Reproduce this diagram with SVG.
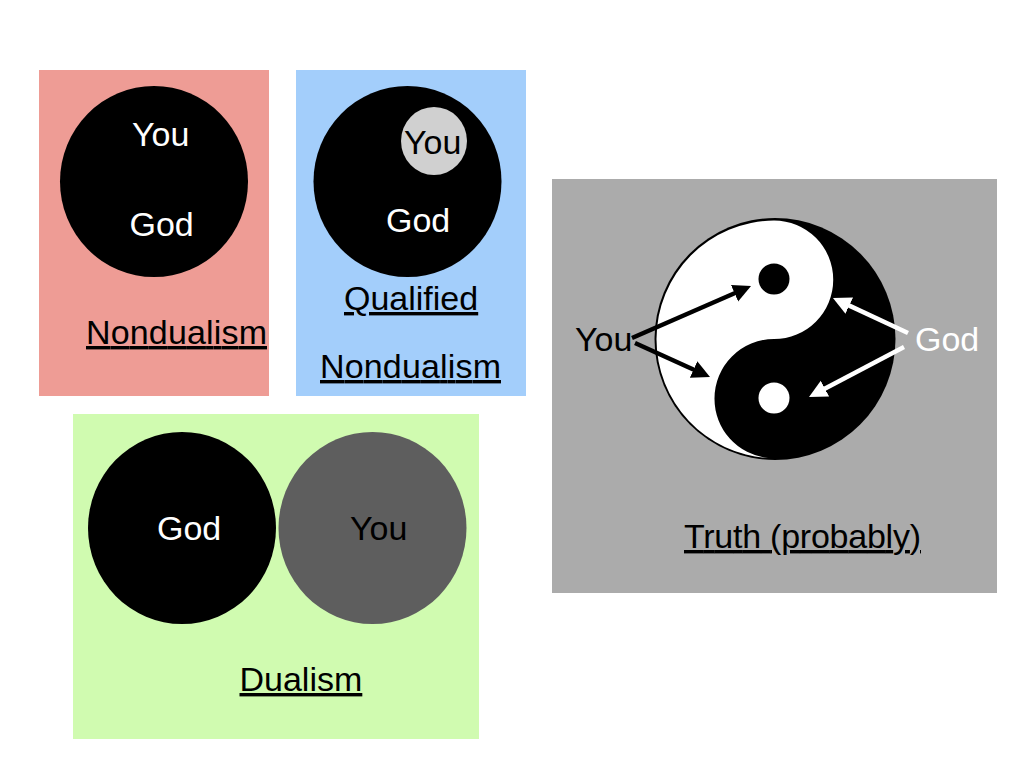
<svg xmlns="http://www.w3.org/2000/svg" width="1024" height="768" viewBox="0 0 1024 768">
<style>
text{font-family:"Liberation Sans",Arial,sans-serif;font-size:34px;fill:#000}
.w{fill:#fff}
.u{text-decoration:underline}
.k{fill:#000}
.a{stroke-width:4.5;fill:none}
</style>
<defs>
<marker id="hb" markerUnits="userSpaceOnUse" markerWidth="20" markerHeight="20" refX="10" refY="9" orient="auto"><path d="M0,0L18,9L0,18Z" fill="#000"/></marker>
<marker id="hw" markerUnits="userSpaceOnUse" markerWidth="20" markerHeight="20" refX="10" refY="9" orient="auto"><path d="M0,0L18,9L0,18Z" fill="#fff"/></marker>
</defs>
<rect width="1024" height="768" fill="#fff"/>
<g id="nondualism">
<rect x="39" y="70" width="230" height="326" fill="#EE9C95"/>
<ellipse cx="154" cy="181.500" rx="94" ry="95.500" class="k"/>
<text x="132" y="146" class="w">You</text>
<text x="129.500" y="236" class="w">God</text>
<text x="86" y="344" class="u" textLength="181">Nondualism</text>
</g>
<g id="qualified">
<rect x="296" y="70" width="230" height="326" fill="#A3CEFB"/>
<ellipse cx="407.500" cy="181.500" rx="94" ry="95.500" class="k"/>
<ellipse cx="434" cy="141" rx="33" ry="34" fill="#D0D0D0"/>
<text x="404" y="154">You</text>
<text x="386" y="232" class="w">God</text>
<text x="344" y="310" class="u">Qualified</text>
<text x="320" y="378" class="u" textLength="181">Nondualism</text>
</g>
<g id="dualism">
<rect x="73" y="414" width="406" height="325" fill="#D0FBB0"/>
<ellipse cx="182" cy="528" rx="94" ry="96" class="k"/>
<ellipse cx="372.500" cy="528" rx="94" ry="96" fill="#5E5E5E"/>
<text x="157" y="540" class="w">God</text>
<text x="350" y="540">You</text>
<text x="239.500" y="691" class="u">Dualism</text>
</g>
<g id="truth">
<rect x="552" y="179" width="445" height="414" fill="#ABABAB"/>
<ellipse cx="775" cy="339" rx="120.500" ry="121" class="k"/>
<path d="M774,220.500A59.250,59.250 0 0 1 774,339A59.500,59.500 0 0 0 714.500,398.500A59.500,59.500 0 0 0 768,458A118.500,119 0 0 1 656.500,339A118.500,118.500 0 0 1 774,220.500Z" fill="#fff"/>
<circle cx="774" cy="279" r="15.500" class="k"/>
<circle cx="774" cy="398" r="15.500" class="w"/>
<text x="575" y="351">You</text>
<text x="915" y="351" class="w">God</text>
<text x="684" y="548" class="u" textLength="237">Truth (probably)</text>
</g>
<g id="connectors">
<path d="M632,338L743.700,289.200" class="a" stroke="#000" marker-end="url(#hb)"/>
<path d="M635,343L702.700,373.700" class="a" stroke="#000" marker-end="url(#hb)"/>
<path d="M908,333L840.200,301.400" class="a" stroke="#fff" marker-end="url(#hw)"/>
<path d="M904,347L816.100,393.300" class="a" stroke="#fff" marker-end="url(#hw)"/>
</g>
</svg>
